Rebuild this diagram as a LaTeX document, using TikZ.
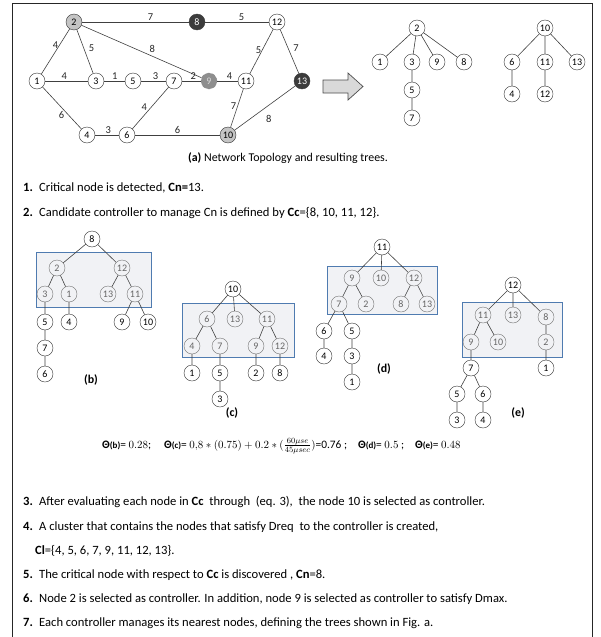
\documentclass[tikz,border=0pt]{standalone}
\usepackage{fontspec}
\setmainfont{Carlito}
\usepackage{amsmath}
\usetikzlibrary{positioning}
\definecolor{boxblue}{HTML}{4F7BB0}
\definecolor{boxfill}{HTML}{F1F2F5}
\definecolor{ctrlgray}{HTML}{C4C4C4}
\definecolor{critdark}{HTML}{3C3C3C}
\definecolor{candgray}{HTML}{8E8E8E}
\tikzset{%
  nd/.style={circle,draw=black!80,fill=white,minimum size=16pt,inner sep=0pt,
    font=\fontsize{10}{10}\selectfont},
  inbox/.style={nd,draw=black!55,fill=boxfill,text=black!60},
  lbl/.style={inner sep=1pt,font=\fontsize{10.5}{11}\selectfont,text=black!85},
  link/.style={draw=black!75,line width=0.6pt},
  cluster/.style={draw=boxblue,fill=boxfill,line width=0.7pt},
  txt/.style={anchor=west,inner sep=0pt,font=\fontsize{12.6}{15}\selectfont},
  treelbl/.style={inner sep=0pt,font=\fontsize{11.9}{14}\selectfont\bfseries}
}
\newcommand\stepnum[1]{\makebox[16pt][l]{\textbf{#1.}}}
\newcommand\thetaof[1]{\textbf{Θ}{\fontsize{9}{10}\selectfont\textbf{(#1)}}=}

\begin{document}
\begin{tikzpicture}[x=1pt,y=-1pt]
    \useasboundingbox (0,0) rectangle (601,637);
    \draw[line width=0.8pt,black!85] (12,645) -- (12,3) -- (592,3) -- (592,645);

    % (a) network topology
    \node[nd,fill=ctrlgray] (n2) at (74,22) {2};
    \node[nd,fill=critdark,draw=critdark,text=white] (n8) at (197,22) {8};
    \node[nd] (n12) at (277,22) {12};
    \node[nd] (n1) at (37,81) {1};
    \node[nd] (n3) at (96,81) {3};
    \node[nd] (n5) at (133,81) {5};
    \node[nd] (n7) at (174,81) {7};
    \node[nd,fill=candgray,draw=black!45,dashed,text=white!85!black] (n9) at (209,81) {9};
    \node[nd] (n11) at (246,81) {11};
    \node[nd,fill=critdark,draw=critdark,text=white] (n13) at (302,81) {13};
    \node[nd] (n4) at (87,135) {4};
    \node[nd] (n6) at (127,135) {6};
    \node[nd,fill=ctrlgray] (n10) at (228,135) {10};

    \draw[link] (n2) -- node[lbl,pos=.64,above] (w28) {7} (n8);
    \draw[link] (n8) -- node[lbl,pos=.57,above] (w812) {5} (n12);
    \draw[link] (n2) -- node[lbl,pos=.36,left] (w21) {4} (n1);
    \draw[link] (n2) -- node[lbl,pos=.42,right=4pt] (w23) {5} (n3);
    \draw[link] (n2) -- node[lbl,pos=.59,above=2pt] (w29) {8} (n9);
    \draw[link] (n12) -- node[lbl,pos=.46,left] (w1211) {5} (n11);
    \draw[link] (n12) -- node[lbl,pos=.42,right=4pt] (w1213) {7} (n13);
    \draw[link] (n1) -- node[lbl,pos=.45,above] (w13) {4} (n3);
    \draw[link] (n3) -- node[lbl,pos=.51,above] (w35) {1} (n5);
    \draw[link] (n5) -- node[lbl,pos=.58,above] (w57) {3} (n7);
    \draw[link] (n7) -- node[lbl,pos=.6,above] (w79) {2} (n9);
    \draw[link] (n9) -- node[lbl,pos=.6,above] (w911) {4} (n11);
    \draw[link] (n1) -- node[lbl,pos=.67,left=3pt] (w14) {6} (n4);
    \draw[link] (n7) -- node[lbl,pos=.48,left=3pt] (w76) {4} (n6);
    \draw[link] (n11) -- node[lbl,pos=.46,left] (w1110) {7} (n10);
    \draw[link] (n13) -- node[lbl,pos=.6,below right=2pt and 6pt] (w1310) {8} (n10);
    \draw[link] (n4) -- node[lbl,pos=.55,above] (w46) {3} (n6);
    \draw[link] (n6) -- node[lbl,pos=.5,above] (w610) {6} (n10);

    \draw[fill=black!15,draw=black!70,line width=0.7pt]
        (323,80) -- (348,80) -- (348,73) -- (363,86.5) -- (348,100) -- (348,93) -- (323,93) -- cycle;

    % resulting trees
    \node[nd] (a2) at (417,28) {2};
    \node[nd] (a1) at (380,62) {1};
    \node[nd] (a3) at (412,62) {3};
    \node[nd] (a9) at (437,62) {9};
    \node[nd] (a8) at (464,62) {8};
    \node[nd] (a5) at (412,90) {5};
    \node[nd] (a7) at (412,118) {7};
    \node[nd] (a10) at (545,28) {10};
    \node[nd] (a6) at (512,62) {6};
    \node[nd] (a11) at (545,62) {11};
    \node[nd] (a13) at (577,62) {13};
    \node[nd] (a4) at (512,94) {4};
    \node[nd] (a12) at (545,94) {12};
    \draw[link] (a2) -- (a1) (a2) -- (a3) (a2) -- (a9) (a2) -- (a8) (a3) -- (a5) (a5) -- (a7);
    \draw[link] (a10) -- (a6) (a10) -- (a11) (a10) -- (a13) (a6) -- (a4) (a11) -- (a12);

    \node[txt,anchor=center,font=\fontsize{11.9}{14}\selectfont] (capa) at (288,158) {\textbf{(a)} Network Topology and resulting trees.};

    \node[txt] (s1) at (23,188) {\stepnum{1}Critical node is detected, \textbf{Cn=}13.};
    \node[txt] (s2) at (23,213) {\stepnum{2}Candidate controller to manage Cn is defined by \textbf{Cc}=\{8, 10, 11, 12\}.};

    % (b) controller 8
    \fill[cluster] (36,252) rectangle (151,307);
    \node[nd] (b8) at (92,239) {8};
    \node[inbox] (b2) at (57,268) {2};
    \node[inbox] (b12) at (122,268) {12};
    \node[inbox] (b3) at (45,294) {3};
    \node[inbox] (b1) at (69,294) {1};
    \node[inbox] (b13) at (108,294) {13};
    \node[inbox] (b11) at (135,294) {11};
    \node[nd] (b5) at (45,322) {5};
    \node[nd] (b4) at (69,322) {4};
    \node[nd] (b9) at (122,322) {9};
    \node[nd] (b10) at (148,322) {10};
    \node[nd] (b7) at (45,348) {7};
    \node[nd] (b6) at (45,374) {6};
    \draw[link] (b8) -- (b2) (b8) -- (b12) (b2) -- (b3) (b2) -- (b1) (b12) -- (b13) (b12) -- (b11)
        (b3) -- (b5) (b1) -- (b4) (b11) -- (b9) (b11) -- (b10) (b5) -- (b7) (b7) -- (b6);
    \node[treelbl] (capb) at (91,380) {(b)};

    % (c) controller 10
    \fill[cluster] (182,303) rectangle (294,357);
    \node[nd] (c10) at (233,289) {10};
    \node[inbox] (c6) at (207,319) {6};
    \node[inbox] (c13) at (235,319) {13};
    \node[inbox] (c11) at (267,319) {11};
    \node[inbox] (c4) at (192,346) {4};
    \node[inbox] (c7) at (220,346) {7};
    \node[inbox] (c9) at (256,346) {9};
    \node[inbox] (c12) at (280,346) {12};
    \node[nd] (c1) at (192,373) {1};
    \node[nd] (c5) at (220,373) {5};
    \node[nd] (c2) at (256,373) {2};
    \node[nd] (c8) at (280,373) {8};
    \node[nd] (c3) at (220,399) {3};
    \draw[link] (c10) -- (c6) (c10) -- (c13) (c10) -- (c11) (c6) -- (c4) (c6) -- (c7) (c11) -- (c9)
        (c11) -- (c12) (c4) -- (c1) (c7) -- (c5) (c9) -- (c2) (c12) -- (c8) (c5) -- (c3);
    \node[treelbl] (capc) at (232,413) {(c)};

    % (d) controller 11
    \fill[cluster] (327,266) rectangle (437,314);
    \node[nd] (d11) at (382,247) {11};
    \node[inbox] (d9) at (352,278) {9};
    \node[inbox] (d10) at (381,278) {10};
    \node[inbox] (d12) at (414,278) {12};
    \node[inbox] (d7) at (339,304) {7};
    \node[inbox] (d2) at (366,304) {2};
    \node[inbox] (d8) at (401,304) {8};
    \node[inbox] (d13) at (427,304) {13};
    \node[nd] (d6) at (324,331) {6};
    \node[nd] (d5) at (352,331) {5};
    \node[nd] (d4) at (324,356) {4};
    \node[nd] (d3) at (352,356) {3};
    \node[nd] (d1) at (352,382) {1};
    \draw[link] (d11) -- (d9) (d11) -- (d10) (d11) -- (d12) (d9) -- (d7) (d9) -- (d2) (d12) -- (d8)
        (d12) -- (d13) (d7) -- (d6) (d7) -- (d5) (d6) -- (d4) (d5) -- (d3) (d3) -- (d1);
    \node[treelbl] (capd) at (384,369) {(d)};

    % (e) controller 12
    \fill[cluster] (462,302) rectangle (562,357);
    \node[nd] (e12) at (513,285) {12};
    \node[inbox] (e11) at (483,315) {11};
    \node[inbox] (e13) at (513,315) {13};
    \node[inbox] (e8) at (546,317) {8};
    \node[inbox] (e9) at (471,342) {9};
    \node[inbox] (e10) at (498,342) {10};
    \node[inbox] (e2) at (546,342) {2};
    \node[nd] (e7) at (471,368) {7};
    \node[nd] (e1) at (546,368) {1};
    \node[nd] (e5) at (457,394) {5};
    \node[nd] (e6) at (483,394) {6};
    \node[nd] (e3) at (457,420) {3};
    \node[nd] (e4) at (483,420) {4};
    \draw[link] (e12) -- (e11) (e12) -- (e13) (e12) -- (e8) (e11) -- (e9) (e11) -- (e10) (e8) -- (e2)
        (e9) -- (e7) (e2) -- (e1) (e7) -- (e5) (e7) -- (e6) (e5) -- (e3) (e6) -- (e4);
    \node[treelbl] (cape) at (518,413) {(e)};

    \node[txt,font=\fontsize{11.4}{14}\selectfont] (theta) at (102,446) {\thetaof{b} $0.28$;\hspace{13pt}\thetaof{c} $0{,}8*(0.75)+0.2*(\frac{60\mu se}{45\mu sec})$=0.76 ;\hspace{11pt}\thetaof{d} $0.5$ ;\hspace{11pt}\thetaof{e} $0.48$};

    \node[txt] (s3) at (23,502) {\stepnum{3}After evaluating each node in \textbf{Cc}\ \ through\ \ (eq. 3),\ \ the node 10 is selected as controller.};
    \node[txt] (s4) at (23,527) {\stepnum{4}A cluster that contains the nodes that satisfy Dreq\ \ to the controller is created,};
    \node[txt] (s4b) at (35,551) {\textbf{Cl}=\{4, 5, 6, 7, 9, 11, 12, 13\}.};
    \node[txt] (s5) at (23,575) {\stepnum{5}The critical node with respect to \textbf{Cc} is discovered , \textbf{Cn}=8.};
    \node[txt] (s6) at (23,599) {\stepnum{6}Node 2 is selected as controller. In addition, node 9 is selected as controller to satisfy Dmax.};
    \node[txt] (s7) at (23,623) {\stepnum{7}Each controller manages its nearest nodes, defining the trees shown in Fig. a.};
\end{tikzpicture}
\end{document}
